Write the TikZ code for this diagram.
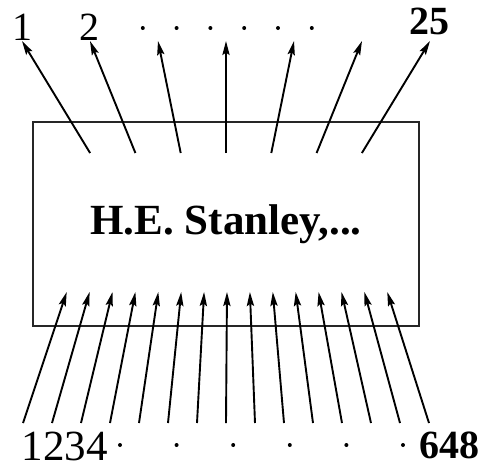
\documentclass[tikz,border=0pt]{standalone}
\usepackage{fontspec}
\setmainfont{Liberation Serif}
\usetikzlibrary{arrows.meta, positioning}

\begin{document}
\begin{tikzpicture}[
        x=0.5pt, y=-0.5pt,
        % This defines the style of the central box
        box/.style={rectangle, draw=black!85, line width=0.7pt, minimum width=193pt, minimum height=102pt, font=\bfseries\fontsize{21.5}{25}\selectfont},
        % This defines the style of the arrows in and out of the box
        arrow/.style={-{Stealth[length=7pt, width=3.6pt, inset=1.2pt]}, line width=0.95pt},
        % numbers at the free ends of the arrows
        num/.style={inner sep=0pt, font=\fontsize{20}{24}\selectfont},
        bignum/.style={inner sep=0pt, font=\bfseries\fontsize{20}{24}\selectfont},
        dot/.style={circle, fill=black, inner sep=0pt, minimum size=2pt}
    ]
    \useasboundingbox (0,0) rectangle (484,468);

    % --- THE BOX ---
    \node (stanley) [box] at (226,224) {H.E. Stanley,...};

    % --- THE OUTGOING ARROWS ---
    \foreach \i in {0,...,6} {
        \coordinate (out\i) at ({226+45.3*(\i-3)},153);
        \coordinate (outend\i) at ({226+68*(\i-3)},41);
        \draw [arrow] (out\i) -- (outend\i);
    }

    % --- THE INCOMING ARROWS ---
    \foreach \i in {0,...,14} {
        \coordinate (in\i) at ({227+22.9*(\i-7)},292);
        \coordinate (instart\i) at ({226+29*(\i-7)},423);
        \draw [arrow] (instart\i) -- (in\i);
    }

    % --- THE LABELS ---
    \node (top1) [num, above=0pt of outend0] {1};
    \node (top2) [num, above=0pt of outend1] {2};
    \node (top25) [bignum, above=3pt of outend6] {25};
    \foreach \i in {1,...,6}
        \node (topdot\i) [dot] at ({109+33.8*\i},28) {};

    \node (bottom1234) [num, font=\fontsize{21.5}{24}\selectfont] at (65,446) {1234};
    \node (bottom648) [bignum] at (450,445) {648};
    \foreach \i in {0,...,5}
        \node (bottomdot\i) [dot] at ({120+56.6*\i},445) {};

\end{tikzpicture}
\end{document}
